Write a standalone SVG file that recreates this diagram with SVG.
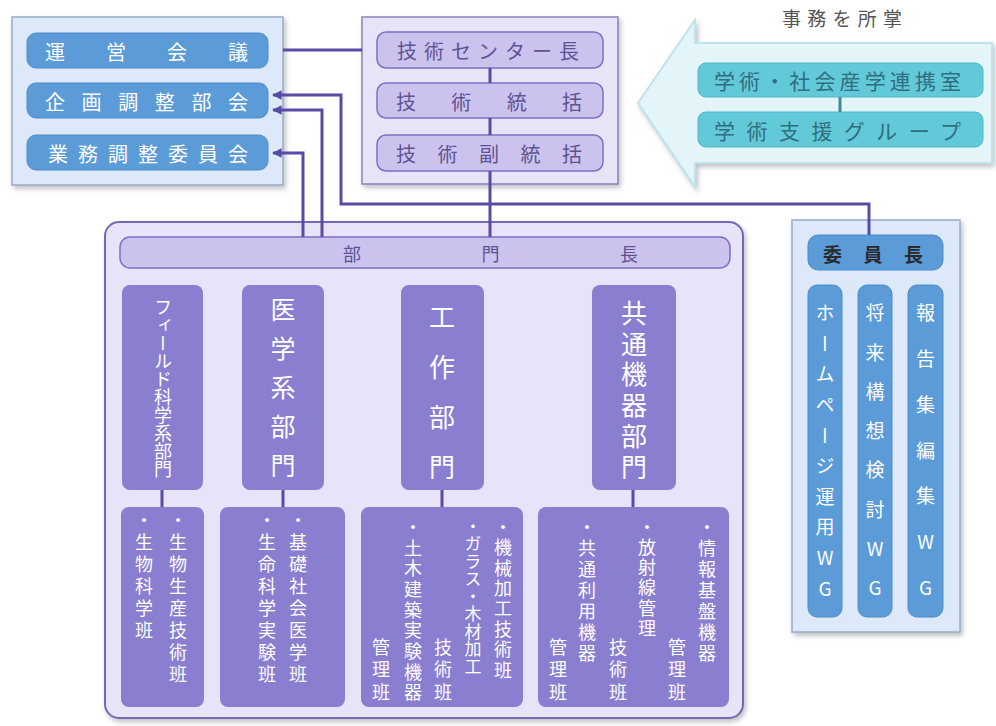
<svg xmlns="http://www.w3.org/2000/svg" width="996" height="726" viewBox="0 0 996 726">
<defs>
<filter id="sh" x="-10%" y="-10%" width="130%" height="130%"><feDropShadow dx="2" dy="3" stdDeviation="2.5" flood-color="#8a8a9a" flood-opacity="0.55"/></filter>
<marker id="ah" viewBox="0 0 10 10" refX="9" refY="5" markerWidth="3.2" markerHeight="3.2" orient="auto"><path d="M0,0 L10,5 L0,10 z" fill="#5a4aa8"/></marker>
<style>
text{font-family:"Noto Sans CJK JP","Noto Sans CJK SC",sans-serif;}
.h{dominant-baseline:central;}
.v{writing-mode:vertical-rl;text-orientation:upright;}
.bluebox{fill:#dde9f8;stroke:#97acc9;stroke-width:1.5;}
.bpill{fill:#5b9bd8;stroke:#4f8ccb;stroke-width:1;}
.wt{fill:#ffffff;}
.purbox{fill:#e8e4f7;stroke:#8a82b8;stroke-width:1.5;}
.ppill{fill:#cbc2ee;stroke:#7d70c4;stroke-width:1.5;}
.pt{fill:#5e5394;}
.dept{fill:#8a7ed0;}
.cpill{fill:#62c9d9;stroke:#52b6c6;stroke-width:1;}
.ct{fill:#2f6e7e;}
.con{fill:none;stroke:#5a4aa8;stroke-width:3;}
</style>
</defs>

<!-- label -->
<text x="782" y="17" class="h" font-size="19" fill="#555" textLength="120" lengthAdjust="spacing">事務を所掌</text>

<!-- left box -->
<g id="kaigi-group">
<rect x="12" y="17" width="271" height="168" class="bluebox" filter="url(#sh)"/>
<g id="unei"><rect x="27" y="33" width="241" height="35" rx="9" class="bpill"/><text x="45" y="51" class="h wt" font-size="20" textLength="203" lengthAdjust="spacing">運営会議</text></g>
<g id="kikaku"><rect x="27" y="83" width="241" height="35" rx="9" class="bpill"/><text x="45" y="101" class="h wt" font-size="20" textLength="203" lengthAdjust="spacing">企画調整部会</text></g>
<g id="gyomu"><rect x="27" y="135" width="241" height="35" rx="9" class="bpill"/><text x="48" y="153" class="h wt" font-size="20" textLength="200" lengthAdjust="spacing">業務調整委員会</text></g>
</g>

<!-- center box -->
<g id="center-group">
<rect x="362" y="17" width="256" height="167" class="purbox" filter="url(#sh)"/>
<g id="chou"><rect x="377" y="32" width="226" height="36" rx="9" class="ppill"/><text x="397" y="50" class="h pt" font-size="20" textLength="182" lengthAdjust="spacing">技術センター長</text></g>
<g id="toukatsu"><rect x="377" y="83" width="226" height="35" rx="9" class="ppill"/><text x="396" y="101" class="h pt" font-size="20" textLength="186" lengthAdjust="spacing">技術統括</text></g>
<g id="fuku"><rect x="377" y="135" width="226" height="36" rx="9" class="ppill"/><text x="396" y="153" class="h pt" font-size="20" textLength="186" lengthAdjust="spacing">技術副統括</text></g>
</g>

<!-- arrow -->
<g id="gakujutsu-group">
<polygon points="638,103 695,20 695,43 992,43 992,163 695,163 695,187" fill="#e3f5f9" stroke="#bfe3ec" stroke-width="2" filter="url(#sh)"/>
<g id="renkei"><rect x="698" y="63" width="285" height="34" rx="8" class="cpill"/><text x="714" y="80" class="h ct" font-size="21" textLength="247" lengthAdjust="spacing">学術・社会産学連携室</text></g>
<g id="shien"><rect x="698" y="112" width="285" height="35" rx="8" class="cpill"/><text x="714" y="130" class="h ct" font-size="21" textLength="247" lengthAdjust="spacing">学術支援グループ</text></g>
<line x1="840" y1="97" x2="840" y2="112" stroke="#3d8a9a" stroke-width="3"/>
</g>

<!-- big department box -->
<g id="bumon-group">
<rect x="105" y="222" width="638" height="496" rx="14" fill="#e8e3f8" stroke="#7469b6" stroke-width="2" filter="url(#sh)"/>
<g id="buchou"><rect x="120" y="237" width="610" height="31" rx="10" class="ppill"/><text x="343" y="253" class="h pt" font-size="18" textLength="295" lengthAdjust="spacing">部門長</text></g>

<g id="field"><rect x="122" y="285" width="81" height="205" rx="8" class="dept"/><text x="163" y="298" class="v wt" font-size="18">フィールド科学系部門</text></g>
<g id="igaku"><rect x="242" y="285" width="82" height="205" rx="8" class="dept"/><text x="283" y="297" class="v wt" font-size="25" letter-spacing="14">医学系部門</text></g>
<g id="kousaku"><rect x="401" y="285" width="83" height="205" rx="8" class="dept"/><text x="442" y="304" class="v wt" font-size="26" letter-spacing="24">工作部門</text></g>
<g id="kyoutsu"><rect x="592" y="285" width="84" height="205" rx="8" class="dept"/><text x="634" y="300" class="v wt" font-size="26" letter-spacing="4.8">共通機器部門</text></g>

<g id="field-sub"><rect x="121" y="507" width="83" height="200" rx="8" class="dept"/>
<text x="178" y="511" class="v wt" font-size="18" letter-spacing="4">・生物生産技術班</text>
<text x="144" y="511" class="v wt" font-size="18" letter-spacing="4">・生物科学班</text></g>
<g id="igaku-sub"><rect x="220" y="507" width="125" height="200" rx="8" class="dept"/>
<text x="298" y="511" class="v wt" font-size="18" letter-spacing="4">・基礎社会医学班</text>
<text x="267" y="511" class="v wt" font-size="18" letter-spacing="4">・生命科学実験班</text></g>
<g id="kousaku-sub"><rect x="361" y="507" width="162" height="200" rx="8" class="dept"/>
<text x="503" y="518" class="v wt" font-size="18" letter-spacing="2.4">・機械加工技術班</text>
<text x="473" y="518" class="v wt" font-size="17" letter-spacing="0.5">・ガラス・木材加工</text>
<text x="443" y="638" class="v wt" font-size="18" letter-spacing="4.5">技術班</text>
<text x="413" y="518" class="v wt" font-size="18" letter-spacing="2.7">・土木建築実験機器</text>
<text x="381" y="638" class="v wt" font-size="18" letter-spacing="4.5">管理班</text></g>
<g id="kyoutsu-sub"><rect x="538" y="507" width="191" height="200" rx="8" class="dept"/>
<text x="707" y="518" class="v wt" font-size="18" letter-spacing="3">・情報基盤機器</text>
<text x="677" y="638" class="v wt" font-size="18" letter-spacing="4.5">管理班</text>
<text x="647" y="518" class="v wt" font-size="18" letter-spacing="2.2">・放射線管理</text>
<text x="618" y="638" class="v wt" font-size="18" letter-spacing="4.5">技術班</text>
<text x="587" y="518" class="v wt" font-size="18" letter-spacing="3">・共通利用機器</text>
<text x="558" y="638" class="v wt" font-size="18" letter-spacing="4.5">管理班</text></g>
</g>

<!-- committee -->
<g id="iinkai-group">
<rect x="792" y="220" width="168" height="412" class="bluebox" filter="url(#sh)"/>
<g id="iinchou"><rect x="808" y="235" width="135" height="35" rx="10" class="bpill"/><text x="823" y="253" class="h" font-size="19" font-weight="bold" fill="#2a2a2a" textLength="100" lengthAdjust="spacing">委員長</text></g>
<g id="wg-hp"><rect x="808" y="285" width="34" height="332" rx="9" class="bpill"/><text x="825" y="303.5" class="v wt" font-size="19" letter-spacing="11.6">ホームページ運用WG</text></g>
<g id="wg-shourai"><rect x="858" y="285" width="34" height="332" rx="9" class="bpill"/><text x="875" y="303.5" class="v wt" font-size="19" letter-spacing="20.3">将来構想検討WG</text></g>
<g id="wg-houkoku"><rect x="908" y="285" width="35" height="332" rx="9" class="bpill"/><text x="925.5" y="303.5" class="v wt" font-size="19" letter-spacing="26.8">報告集編集WG</text></g>
</g>

<!-- connectors -->
<g id="connectors">
<line x1="283" y1="50" x2="362" y2="50" class="con"/>
<line x1="490" y1="68" x2="490" y2="83" class="con"/>
<line x1="490" y1="118" x2="490" y2="135" class="con"/>
<line x1="490" y1="171" x2="490" y2="237" class="con"/>
<path d="M869,235 V204 H341 V95 H273" class="con" marker-end="url(#ah)"/>
<path d="M322,237 V110 H273" class="con" marker-end="url(#ah)"/>
<path d="M303,237 V153 H273" class="con" marker-end="url(#ah)"/>
<line x1="162" y1="490" x2="162" y2="507" class="con"/>
<line x1="283" y1="490" x2="283" y2="507" class="con"/>
<line x1="442" y1="490" x2="442" y2="507" class="con"/>
<line x1="633" y1="490" x2="633" y2="507" class="con"/>
</g>
</svg>
